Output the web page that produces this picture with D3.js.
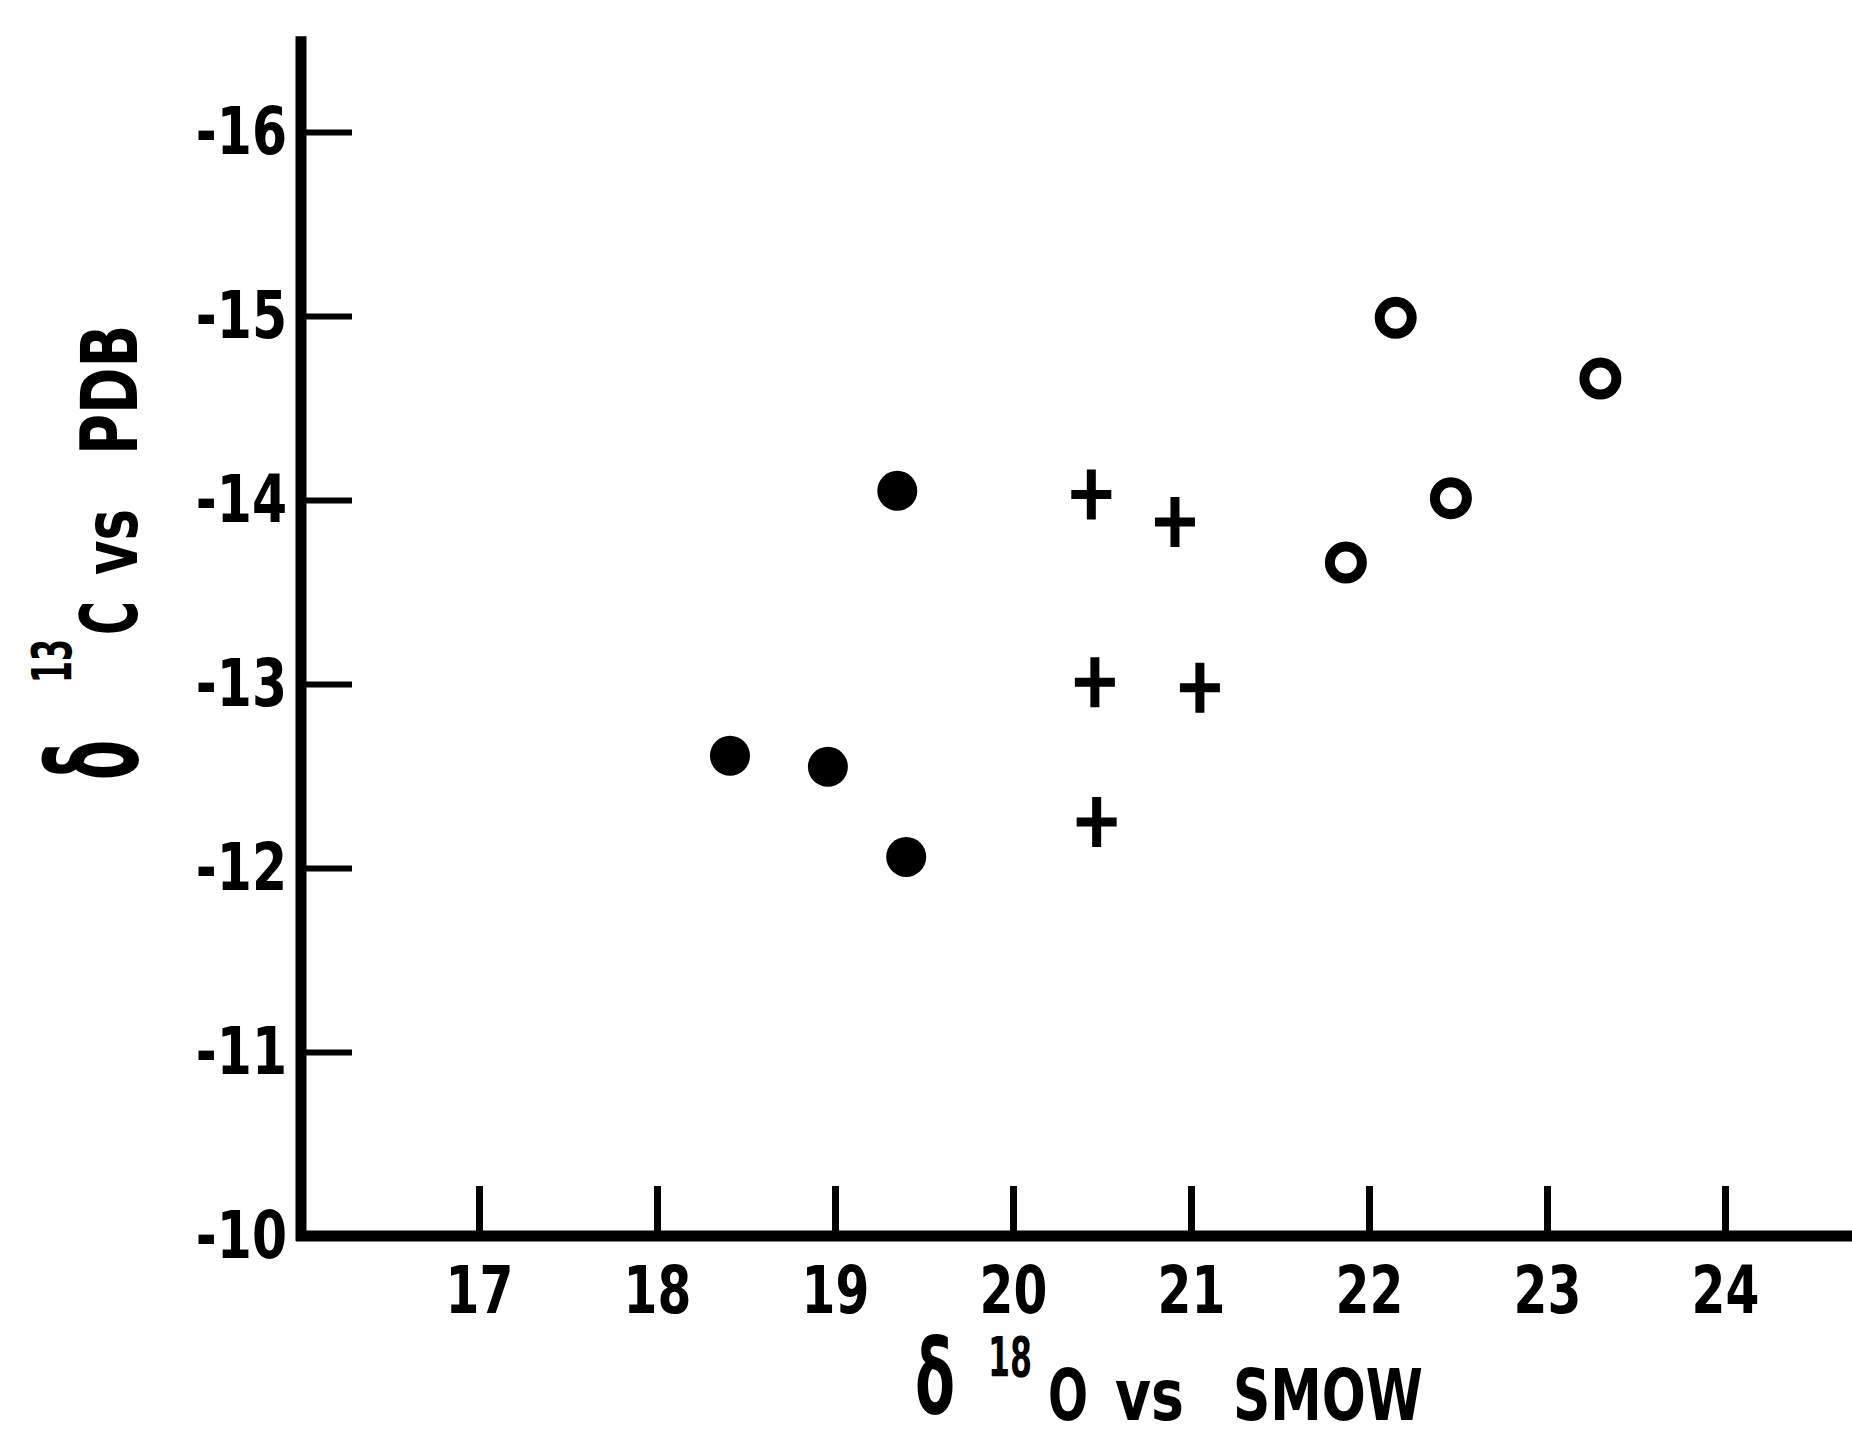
<!DOCTYPE html>
<html>
<head>
<meta charset="utf-8">
<script src="https://cdn.jsdelivr.net/npm/d3@7"></script>
<style>
  body { margin: 0; background: #fff; }
  svg text {
    font-family: "Liberation Sans Narrow", "DejaVu Sans Condensed", "DejaVu Sans", sans-serif;
    font-weight: bold;
    fill: #000;
  }
</style>
</head>
<body>
<svg id="chart" width="1852" height="1439"></svg>
<script>
// d18O (vs SMOW) on x, d13C (vs PDB) on y, three sample groups
const filled_x = [19.35, 18.41, 18.96, 19.40]
const filled_y = [-14.05, -12.61, -12.55, -12.06]
const cross_x = [20.44, 20.91, 20.46, 21.05, 20.47]
const cross_y = [-14.03, -13.88, -13.01, -12.98, -12.25]
const open_x = [22.15, 23.30, 22.46, 21.87]
const open_y = [-14.99, -14.66, -14.01, -13.66]

const x_ticks = [17, 18, 19, 20, 21, 22, 23, 24]
const y_ticks = [-16, -15, -14, -13, -12, -11, -10]

const svg = d3.select("#chart")

const x = d3.scaleLinear().domain([16, 24]).range([301, 1725])
const y = d3.scaleLinear().domain([-10, -16]).range([1236, 132])

// axis lines run a bit past the last tick (top) and off the right edge
const y_top = -16.52
const x_end = 24.8

// lettering in the original is narrow, squeeze the glyphs a bit
function squeeze(sel, k) {
  sel.each(function() {
    const w = this.getComputedTextLength()
    d3.select(this).attr("textLength", w * k).attr("lengthAdjust", "spacingAndGlyphs")
  })
}

const y_axis = d3.axisLeft(y)
  .tickValues(y_ticks)
  .tickFormat(d => `${d}`)
  .tickSizeInner(-51)
  .tickSizeOuter(0)
  .tickPadding(14)

const x_axis = d3.axisBottom(x)
  .tickValues(x_ticks)
  .tickFormat(d => `${d}`)
  .tickSizeInner(-50)
  .tickSizeOuter(0)
  .tickPadding(30)

const gy = svg.append("g")
  .attr("transform", `translate(${x(16)},0)`)
  .call(y_axis)
  .attr("font-size", 66)
  .attr("font-family", null)
gy.select(".domain").remove()
gy.selectAll(".tick line").attr("stroke", "#000").attr("stroke-width", 6)
gy.selectAll(".tick text").call(squeeze, 0.85)

const gx = svg.append("g")
  .attr("transform", `translate(0,${y(-10)})`)
  .call(x_axis)
  .attr("font-size", 66)
  .attr("font-family", null)
gx.select(".domain").remove()
gx.selectAll(".tick line").attr("stroke", "#000").attr("stroke-width", 7)
gx.selectAll(".tick text").call(squeeze, 0.82)

// main axis lines
svg.append("line")
  .attr("x1", x(16)).attr("x2", x(16))
  .attr("y1", y(y_top)).attr("y2", y(-10) + 5)
  .attr("stroke", "#000").attr("stroke-width", 11)
svg.append("line")
  .attr("x1", x(16) - 5).attr("x2", x(x_end))
  .attr("y1", y(-10)).attr("y2", y(-10))
  .attr("stroke", "#000").attr("stroke-width", 11)

// points
svg.selectAll(".filled")
  .data(d3.zip(filled_x, filled_y))
  .join("circle")
  .attr("class", "filled")
  .attr("cx", d => x(d[0]))
  .attr("cy", d => y(d[1]))
  .attr("r", 20)
  .attr("fill", "#000")

svg.selectAll(".cross")
  .data(d3.zip(cross_x, cross_y))
  .join("path")
  .attr("class", "cross")
  .attr("d", "M-20,0H20M0,-25V25")
  .attr("transform", d => `translate(${x(d[0])},${y(d[1])})`)
  .attr("stroke", "#000")
  .attr("stroke-width", 9)
  .attr("fill", "none")

svg.selectAll(".open")
  .data(d3.zip(open_x, open_y))
  .join("circle")
  .attr("class", "open")
  .attr("cx", d => x(d[0]))
  .attr("cy", d => y(d[1]))
  .attr("r", 16)
  .attr("fill", "none")
  .attr("stroke", "#000")
  .attr("stroke-width", 10)

// y title, drawn bottom to top
const y_title = svg.append("text")
  .attr("transform", "translate(137,780) rotate(-90)")
y_title.append("tspan").attr("x", 0).attr("y", 0).attr("font-size", 125)
  .attr("textLength", 40).attr("lengthAdjust", "spacingAndGlyphs").text("δ")
y_title.append("tspan").attr("x", 97).attr("y", -66).attr("font-size", 55)
  .attr("textLength", 44).attr("lengthAdjust", "spacingAndGlyphs").text("13")
y_title.append("tspan").attr("x", 145).attr("y", 0).attr("font-size", 78)
  .attr("textLength", 34).attr("lengthAdjust", "spacingAndGlyphs").text("C")
y_title.append("tspan").attr("x", 205).attr("y", 0).attr("font-size", 74)
  .attr("textLength", 66).attr("lengthAdjust", "spacingAndGlyphs").text("vs")
y_title.append("tspan").attr("x", 325).attr("y", 0).attr("font-size", 78)
  .attr("textLength", 130).attr("lengthAdjust", "spacingAndGlyphs").text("PDB")

// x title, kept just inside the bottom edge
const x_title = svg.append("text")
x_title.append("tspan").attr("x", 915).attr("y", 1414).attr("font-size", 104)
  .attr("textLength", 40).attr("lengthAdjust", "spacingAndGlyphs").text("δ")
x_title.append("tspan").attr("x", 988).attr("y", 1376).attr("font-size", 56)
  .attr("textLength", 44).attr("lengthAdjust", "spacingAndGlyphs").text("18")
x_title.append("tspan").attr("x", 1048).attr("y", 1420).attr("font-size", 72)
  .attr("textLength", 40).attr("lengthAdjust", "spacingAndGlyphs").text("O")
x_title.append("tspan").attr("x", 1115).attr("y", 1420).attr("font-size", 72)
  .attr("textLength", 69).attr("lengthAdjust", "spacingAndGlyphs").text("vs")
x_title.append("tspan").attr("x", 1233).attr("y", 1420).attr("font-size", 72)
  .attr("textLength", 190).attr("lengthAdjust", "spacingAndGlyphs").text("SMOW")
</script>
</body>
</html>
